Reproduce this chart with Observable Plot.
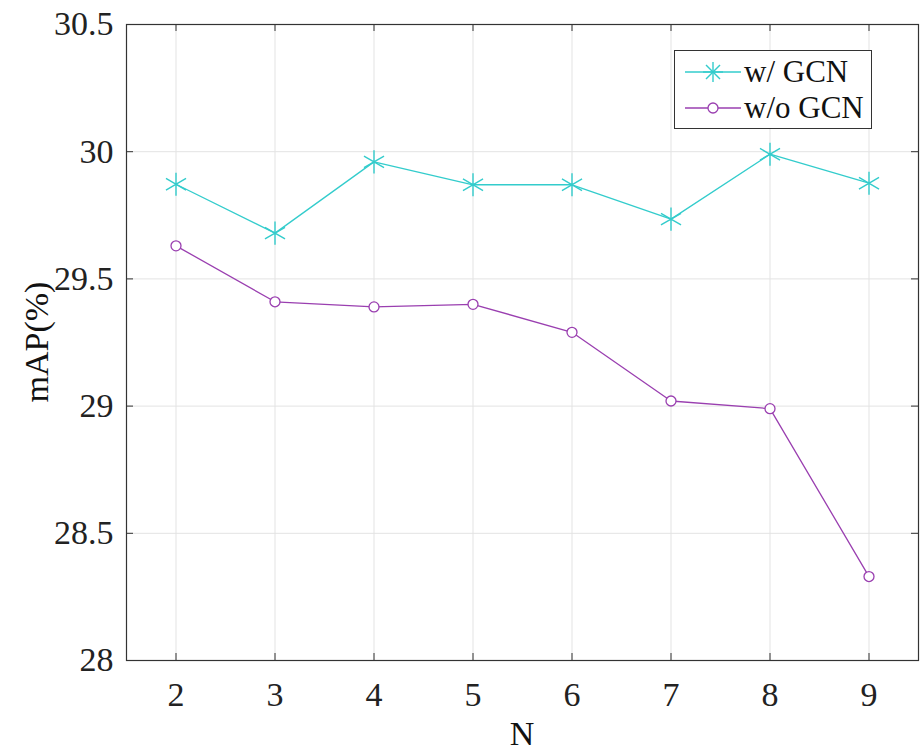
<!DOCTYPE html>
<html>
<head>
<meta charset="utf-8">
<script src="https://cdn.jsdelivr.net/npm/d3@7"></script>
<script src="https://cdn.jsdelivr.net/npm/@observablehq/plot@0.6"></script>
<style>
  html, body { margin: 0; padding: 0; background: #fff; }
  #wrap { position: relative; width: 922px; height: 751px; overflow: hidden; font-family: "Liberation Serif", "Times New Roman", serif; }
  #wrap svg text { font-family: "Liberation Serif", "Times New Roman", serif !important; }
  #legend { position: absolute; left: 674px; top: 50px; width: 198px; height: 79px; border: 1px solid #333; background: #fff; box-sizing: border-box; font-family: "Liberation Serif", "Times New Roman", serif; }
  .row { position: absolute; left: 0; height: 37px; display: flex; align-items: center; font-size: 31px; color: #111; font-family: "Liberation Serif", "Times New Roman", serif; }
  .row svg { margin-left: 10px; margin-right: 3px; }
</style>
</head>
<body>
<div id="wrap"></div>
<script>
const N = [2, 3, 4, 5, 6, 7, 8, 9];
const withGCN = [29.872, 29.68, 29.96, 29.87, 29.87, 29.735, 29.99, 29.876];
const withoutGCN = [29.63, 29.41, 29.39, 29.40, 29.29, 29.02, 28.99, 28.33];
const xTicks = [2, 3, 4, 5, 6, 7, 8, 9];
const yTicks = [28, 28.5, 29, 29.5, 30, 30.5];
const seriesNames = ["w/ GCN", "w/o GCN"];
const colors = ["#33cccc", "#9a3fb0"];

const W = 922, H = 751;
const mL = 126, mR = 4, mT = 24, mB = 91;
const plotH = H - mT - mB;
const plotW = W - mL - mR;
const serif = "'Liberation Serif', 'Times New Roman', serif";

const d1 = N.map((n, i) => ({n, v: withGCN[i]}));
const d2 = N.map((n, i) => ({n, v: withoutGCN[i]}));

const chart = Plot.plot({
  width: W, height: H,
  marginLeft: mL, marginRight: mR, marginTop: mT, marginBottom: mB,
  style: {fontFamily: serif, background: "#fff", color: "#222"},
  x: {domain: [1.5, 9.5]},
  y: {domain: [28, 30.5]},
  marks: [
    Plot.ruleX(xTicks, {x: d => d, stroke: "#e3e3e3", strokeWidth: 1}),
    Plot.ruleY(yTicks, {y: d => d, stroke: "#e3e3e3", strokeWidth: 1}),
    Plot.tickX(xTicks, {x: d => d, insetTop: plotH - 7, stroke: "#333"}),
    Plot.tickX(xTicks, {x: d => d, insetBottom: plotH - 7, stroke: "#333"}),
    Plot.tickY(yTicks, {y: d => d, insetRight: plotW - 7, stroke: "#333"}),
    Plot.tickY(yTicks, {y: d => d, insetLeft: plotW - 7, stroke: "#333"}),
    Plot.frame({stroke: "#333", strokeWidth: 1.2}),
    Plot.axisX(xTicks, {tickSize: 0, tickPadding: 21, fontSize: 34, fontFamily: serif, label: null, tickFormat: d => String(d)}),
    Plot.axisY(yTicks, {tickSize: 0, tickPadding: 13, fontSize: 34, fontFamily: serif, label: null, tickFormat: d => String(d)}),
    Plot.line(d2, {x: "n", y: "v", stroke: colors[1], strokeWidth: 1.3}),
    Plot.dot(d2, {x: "n", y: "v", stroke: colors[1], fill: "white", r: 5, strokeWidth: 1.3}),
    Plot.line(d1, {x: "n", y: "v", stroke: colors[0], strokeWidth: 1.3}),
    Plot.dot(d1, {x: "n", y: "v", stroke: colors[0], symbol: "asterisk", r: 11, strokeWidth: 1.4})
  ]
});

const wrap = document.getElementById("wrap");
wrap.appendChild(chart);

// axis titles
const ylab = document.createElement("div");
ylab.textContent = "mAP(%)";
Object.assign(ylab.style, {position: "absolute", left: "37px", top: (mT + plotH / 2) + "px", transform: "translate(-50%,-50%) rotate(-90deg)", fontSize: "34px", color: "#111", whiteSpace: "nowrap", lineHeight: "1"});
wrap.appendChild(ylab);
const xlab = document.createElement("div");
xlab.textContent = "N";
Object.assign(xlab.style, {position: "absolute", left: (mL + plotW / 2) + "px", top: "734px", transform: "translate(-50%,-50%)", fontSize: "34px", color: "#111", lineHeight: "1"});
wrap.appendChild(xlab);

// legend
const legend = document.createElement("div");
legend.id = "legend";
const icons = [
  `<svg width="56" height="22"><line x1="0" y1="11" x2="56" y2="11" stroke="${colors[0]}" stroke-width="1.3"/>` +
  `<g stroke="${colors[0]}" stroke-width="1.4"><line x1="28" y1="1" x2="28" y2="21"/><line x1="18" y1="11" x2="38" y2="11"/><line x1="21" y1="4" x2="35" y2="18"/><line x1="21" y1="18" x2="35" y2="4"/></g></svg>`,
  `<svg width="56" height="22"><line x1="0" y1="11" x2="56" y2="11" stroke="${colors[1]}" stroke-width="1.3"/>` +
  `<circle cx="28" cy="11" r="5" fill="white" stroke="${colors[1]}" stroke-width="1.3"/></svg>`
];
seriesNames.forEach((name, i) => {
  const row = document.createElement("div");
  row.className = "row";
  row.style.top = (2 + i * 36) + "px";
  row.innerHTML = icons[i] + `<span>${name}</span>`;
  legend.appendChild(row);
});
wrap.appendChild(legend);
</script>
</body>
</html>
